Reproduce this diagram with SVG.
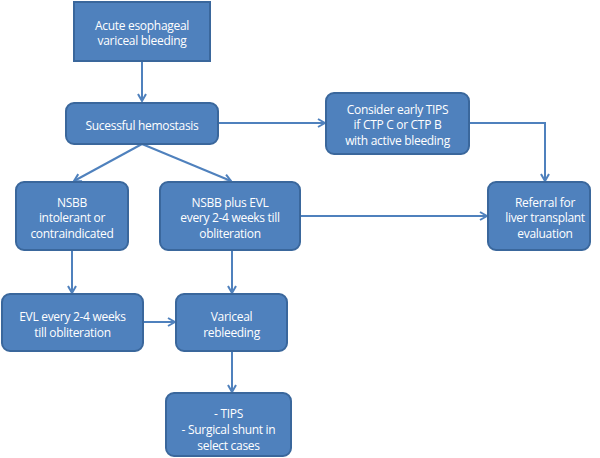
<svg xmlns="http://www.w3.org/2000/svg" width="600" height="458" viewBox="0 0 600 458">
<defs>
<style>
.box{fill:#4f81bd;stroke:#3a679c;stroke-width:2}
.t{fill:#ffffff;font-family:"Open Sans","Noto Sans","Liberation Sans",sans-serif;font-size:12px;letter-spacing:-0.3px;text-anchor:middle}
.c{fill:none;stroke:#4f81bd;stroke-width:2}
</style>
<marker id="a" viewBox="0 0 10 10" refX="9" refY="5" markerWidth="10" markerHeight="10" markerUnits="userSpaceOnUse" orient="auto">
<path d="M2,1 L9,5 L2,9" fill="none" stroke="#4f81bd" stroke-width="2"/>
</marker>
</defs>
<rect width="600" height="458" fill="#ffffff"/>
<g id="connectors">
<line class="c" x1="142" y1="61" x2="142" y2="101" marker-end="url(#a)"/>
<line class="c" x1="218" y1="123" x2="325" y2="123" marker-end="url(#a)"/>
<polyline class="c" points="469,123 545,123 545,181" marker-end="url(#a)"/>
<line class="c" x1="142" y1="144" x2="74" y2="181" marker-end="url(#a)"/>
<line class="c" x1="142" y1="144" x2="231" y2="181" marker-end="url(#a)"/>
<line class="c" x1="300" y1="216" x2="487" y2="216" marker-end="url(#a)"/>
<line class="c" x1="72" y1="250" x2="72" y2="293" marker-end="url(#a)"/>
<line class="c" x1="232" y1="250" x2="232" y2="293" marker-end="url(#a)"/>
<line class="c" x1="143" y1="322" x2="175" y2="322" marker-end="url(#a)"/>
<line class="c" x1="232" y1="351" x2="232" y2="392" marker-end="url(#a)"/>
</g>
<g id="n1">
<rect class="box" x="74" y="2" width="136" height="59"/>
<text class="t" x="142" y="29.5">Acute esophageal</text>
<text class="t" x="142" y="45">variceal bleeding</text>
</g>
<g id="n2">
<rect class="box" x="66" y="103" width="152" height="41" rx="8"/>
<text class="t" x="142" y="129.5">Sucessful hemostasis</text>
</g>
<g id="n3">
<rect class="box" x="326" y="93" width="143" height="61" rx="8"/>
<text class="t" x="397.5" y="113.5">Consider early TIPS</text>
<text class="t" x="397.5" y="129">if CTP C or CTP B</text>
<text class="t" x="397.5" y="144.5">with active bleeding</text>
</g>
<g id="n4">
<rect class="box" x="488" y="182" width="102" height="68" rx="8"/>
<text class="t" x="545" y="206.5">Referral for</text>
<text class="t" x="545" y="222">liver transplant</text>
<text class="t" x="545" y="237.5">evaluation</text>
</g>
<g id="n5">
<rect class="box" x="16" y="182" width="112" height="68" rx="8"/>
<text class="t" x="72" y="206.5">NSBB</text>
<text class="t" x="72" y="222">intolerant or</text>
<text class="t" x="72" y="237.5">contraindicated</text>
</g>
<g id="n6">
<rect class="box" x="160" y="182" width="140" height="68" rx="8"/>
<text class="t" x="230" y="206.5">NSBB plus EVL</text>
<text class="t" x="230" y="222">every 2-4 weeks till</text>
<text class="t" x="230" y="237.5">obliteration</text>
</g>
<g id="n7">
<rect class="box" x="2" y="294" width="141" height="57" rx="8"/>
<text class="t" x="72.5" y="321">EVL every 2-4 weeks</text>
<text class="t" x="72.5" y="336.5">till obliteration</text>
</g>
<g id="n8">
<rect class="box" x="176" y="294" width="111" height="57" rx="8"/>
<text class="t" x="231.5" y="321">Variceal</text>
<text class="t" x="231.5" y="336.5">rebleeding</text>
</g>
<g id="n9">
<rect class="box" x="166" y="393" width="125" height="63" rx="8"/>
<text class="t" x="228.5" y="418">- TIPS</text>
<text class="t" x="228.5" y="434">- Surgical shunt in</text>
<text class="t" x="228.5" y="450">select cases</text>
</g>
</svg>
